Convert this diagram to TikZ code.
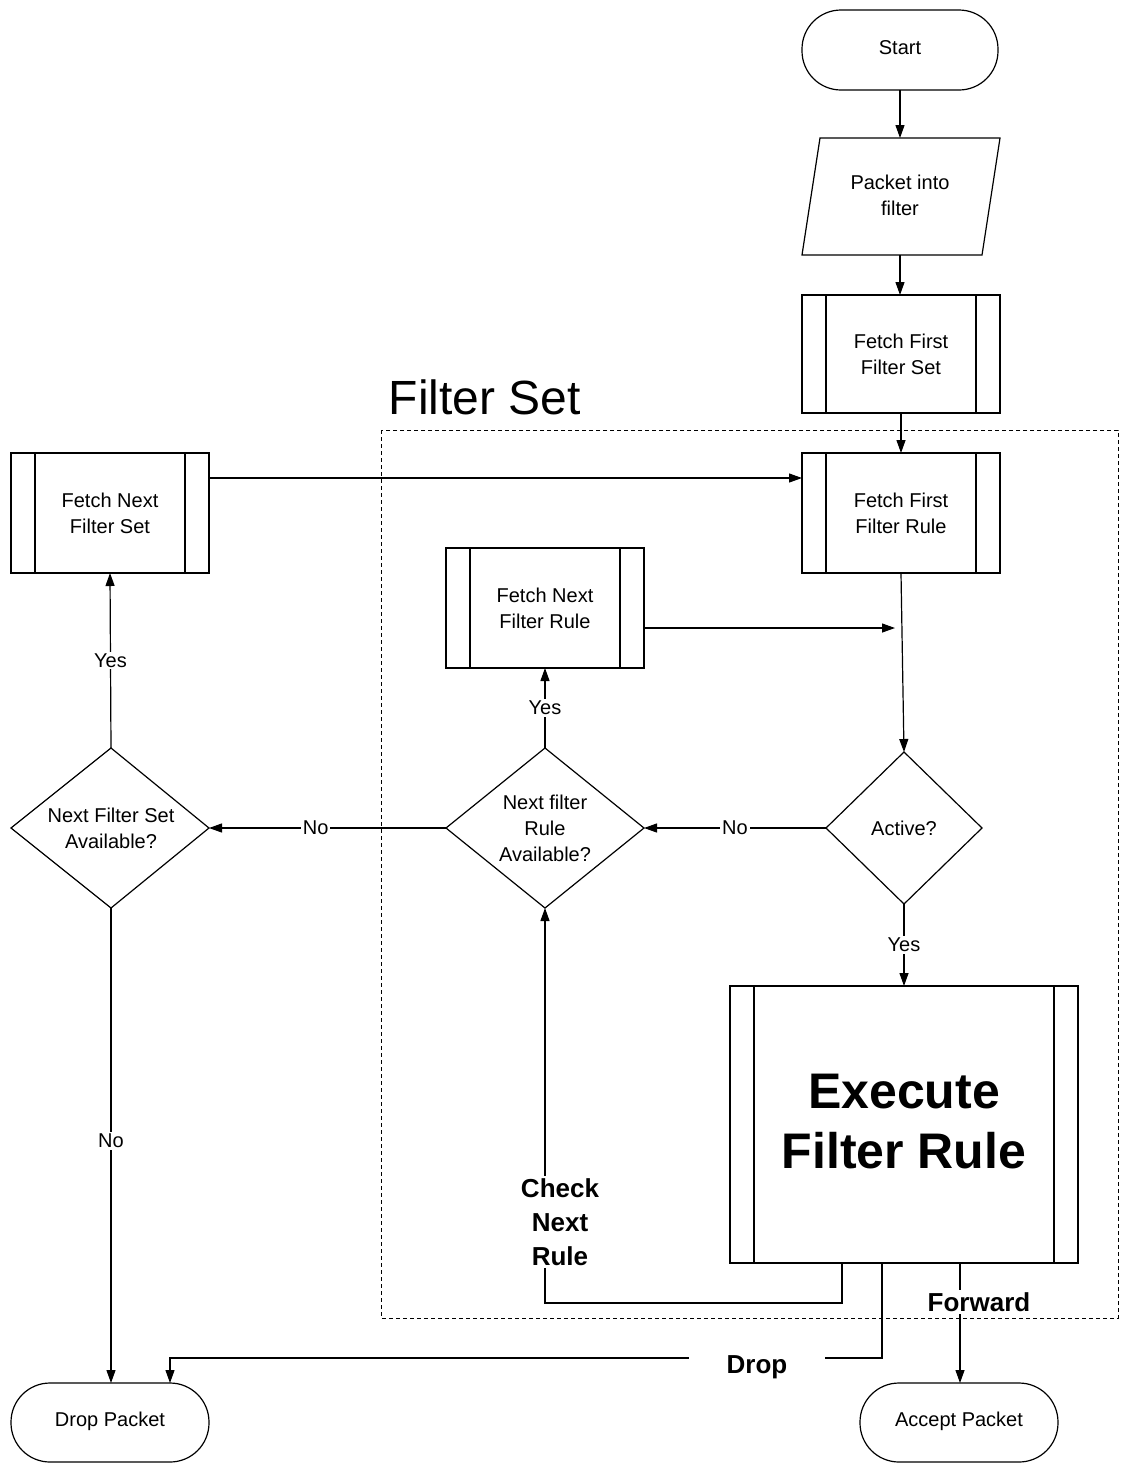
\documentclass[tikz,border=0pt]{standalone}
\usepackage{fontspec}
\setmainfont{Liberation Sans}
\usetikzlibrary{arrows.meta,shapes.geometric}
\begin{document}
\begin{tikzpicture}[x=1pt,y=-1pt,
 line width=1.2pt,
 arr/.style={-{Triangle[length=13pt,width=9pt]}},
 lbl/.style={fill=white,inner sep=2pt,font=\fontsize{20}{22}\selectfont},
 blbl/.style={fill=white,inner sep=2pt,font=\fontsize{26}{34}\selectfont\bfseries,align=center},
 txt/.style={font=\fontsize{20}{26}\selectfont,align=center}]
\useasboundingbox (0,0) rectangle (1125,1465);
\newcommand{\proc}[6]{% name x1 y1 x2 y2 text
 \draw (#2,#3) rectangle (#4,#5);
 \draw (#2+24,#3) -- (#2+24,#5) (#4-24,#3) -- (#4-24,#5);
 \node[txt] (#1) at ({(#2+#4)/2},{(#3+#5)/2}) {#6};
 \coordinate (#1-t) at ({(#2+#4)/2},#3);
 \coordinate (#1-b) at ({(#2+#4)/2},#5);}
% terminals
\draw[rounded corners=39pt] (802,10) rectangle (998,90);
\node[txt] (start) at (900,48) {Start};
\draw[rounded corners=39pt] (11,1383) rectangle (209,1462);
\node[txt] (drop) at (110,1421) {Drop Packet};
\draw[rounded corners=39pt] (860,1383) rectangle (1058,1462);
\node[txt] (accept) at (959,1421) {Accept Packet};
% parallelogram
\draw (820,138) -- (1000,138) -- (982,255) -- (802,255) -- cycle;
\node[txt] (pkt) at (900,195) {Packet into\\filter};
% processes
\proc{ffs}{802}{295}{1000}{413}{Fetch First\\Filter Set}
\proc{ffr}{802}{453}{1000}{573}{Fetch First\\Filter Rule}
\proc{nfs}{11}{453}{209}{573}{Fetch Next\\Filter Set}
\proc{nfr}{446}{548}{644}{668}{Fetch Next\\Filter Rule}
\draw (730,986) rectangle (1078,1263);
\draw (754,986) -- (754,1263) (1054,986) -- (1054,1263);
\node[font=\fontsize{50}{60}\selectfont\bfseries,align=center] (exe) at (904,1122) {Execute\\Filter Rule};
% title and frame
\node[anchor=base west,font=\fontsize{48}{50}\selectfont] (title) at (385,414) {Filter Set};
\draw[dashed,line width=0.9pt,dash pattern=on 4pt off 3pt] (381,430) rectangle (1118,1318);
% diamonds
\draw (904,752) -- (982,828) -- (904,904) -- (826,828) -- cycle;
\node[txt] (act) at (904,828) {Active?};
\draw (545,748) -- (644,828) -- (545,908) -- (446,828) -- cycle;
\node[txt] (nra) at (545,828) {Next filter\\Rule\\Available?};
\draw (111,748) -- (209,828) -- (111,908) -- (11,828) -- cycle;
\node[txt] (nsa) at (111,828) {Next Filter Set\\Available?};
% connectors
\draw[arr] (900,90) -- (900,138);
\draw[arr] (900,255) -- (900,295);
\draw[arr] (ffs-b) -- (ffr-t);
\draw[arr] (209,478) -- (802,478);
\draw[arr] (644,628) -- (895,628);
\draw[arr] (ffr-b) -- (904,752);
\draw[arr] (826,828) -- node[lbl]{No} (644,828);
\draw[arr] (545,748) -- node[lbl,pos=0.5]{Yes} (nfr-b);
\draw[arr] (446,828) -- node[lbl,pos=0.55]{No} (209,828);
\draw[arr] (111,748) -- node[lbl]{Yes} (nfs-b);
\draw[arr] (111,908) -- node[lbl,pos=0.49]{No} (111,1383);
\draw[arr] (904,904) -- node[lbl]{Yes} (904,986);
\draw[arr] (842,1263) -- (842,1303) -- (545,1303) -- (545,908);
\node[blbl] (chk) at (560,1222) {Check\\Next\\Rule};
\draw[arr] (882,1263) -- (882,1358) -- (170,1358) -- (170,1383);
\node[blbl,inner xsep=38pt] (dropl) at (757,1367) {Drop};
\draw[arr] (960,1263) -- (960,1383);
\node[blbl] (fwd) at (979,1302) {Forward};
\end{tikzpicture}
\end{document}
